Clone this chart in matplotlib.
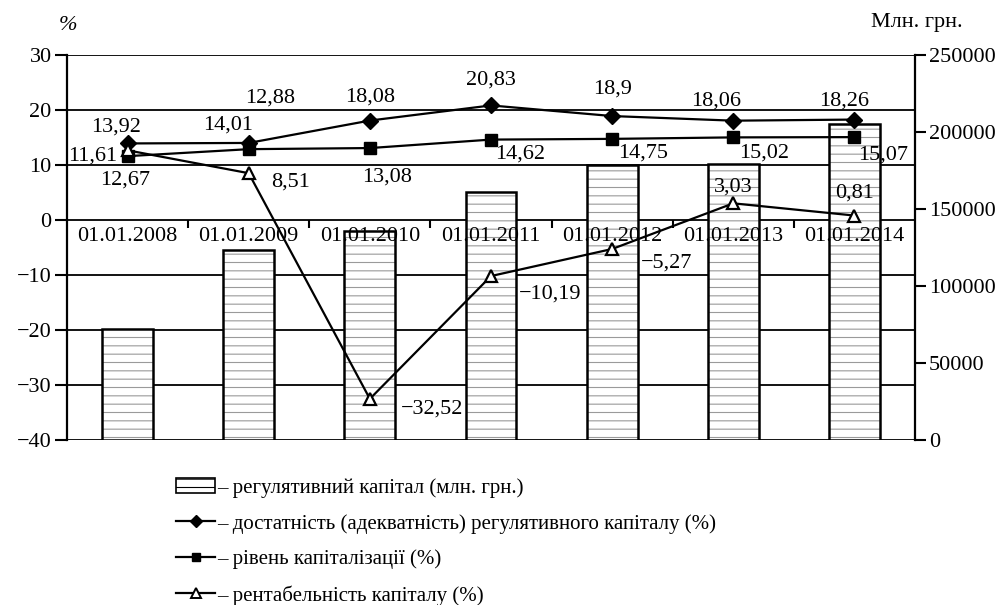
import matplotlib
matplotlib.use("Agg")
import matplotlib.pyplot as plt
from matplotlib.lines import Line2D
from matplotlib.patches import Patch

plt.rcParams['font.family'] = ['Liberation Serif', 'DejaVu Serif']
plt.rcParams['hatch.linewidth'] = 0.8

# data
dates = ["01.01.2008", "01.01.2009", "01.01.2010", "01.01.2011",
         "01.01.2012", "01.01.2013", "01.01.2014"]
reg_capital = [72265, 123066, 135802, 160897, 178454, 178909, 204976]
adequacy = [13.92, 14.01, 18.08, 20.83, 18.9, 18.06, 18.26]
capitalization = [11.61, 12.88, 13.08, 14.62, 14.75, 15.02, 15.07]
profitability = [12.67, 8.51, -32.52, -10.19, -5.27, 3.03, 0.81]

legend_labels = [
    "– регулятивний капітал (млн. грн.)",
    "– достатність (адекватність) регулятивного капіталу (%)",
    "– рівень капіталізації (%)",
    "– рентабельність капіталу (%)",
]

# where each value label sits relative to its point (pixels)
adequacy_offsets = [(-12, 16), (-21, 18), (0, 24), (0, 25), (0, 27), (-17, 20), (-10, 19)]
capital_offsets = [(-35, 0), (21, 51), (17, -29), (29, -14), (31, -14), (31, -16), (29, -18)]
profit_offsets = [(-2, -30), (42, -9), (62, -10), (59, -18), (54, -14), (0, 16), (0, 22)]


def fmt(v):
    return str(v).replace(".", ",").replace("-", "\u2212")


fig = plt.figure(figsize=(9.98, 6.05), dpi=100)
ax = fig.add_axes([67 / 998, 1 - 440 / 605, 848 / 998, 385 / 605])
ax_bar = ax.twinx()
ax_line = ax.twinx()
ax.set_zorder(0)
ax_bar.set_zorder(1)
ax_line.set_zorder(2)

x = list(range(len(dates)))

# left axis with the grid
ax.set_ylim(-40, 30)
ax.set_yticks(range(-40, 31, 10))
ax.set_yticklabels([fmt(v) for v in range(-40, 31, 10)])
ax.grid(axis="y", color="black", lw=1.3)
ax.set_xlim(-0.5, 6.5)
ax.xaxis.set_visible(False)
ax.tick_params(axis="y", length=9, width=1.5, labelsize=16, pad=2)
for s in ["top", "bottom", "right"]:
    ax.spines[s].set_visible(False)
ax.spines["left"].set_linewidth(1.6)

# bars on the right axis
ax_bar.bar(x, reg_capital, width=0.42, facecolor="white", edgecolor="#9a9a9a",
           hatch="--", linewidth=0)
ax_bar.bar(x, reg_capital, width=0.42, facecolor="none", edgecolor="black", linewidth=1.8)
ax_bar.set_ylim(0, 250000)
ax_bar.set_yticks(range(0, 250001, 50000))
ax_bar.set_yticklabels([str(v) for v in range(0, 250001, 50000)])
ax_bar.tick_params(axis="y", length=8, width=1.5, labelsize=16, pad=2)
for s in ["top", "bottom", "left"]:
    ax_bar.spines[s].set_visible(False)
ax_bar.spines["right"].set_linewidth(1.6)

# lines on the left scale
ax_line.set_ylim(-40, 30)
ax_line.yaxis.set_visible(False)
for s in ["top", "left", "right"]:
    ax_line.spines[s].set_visible(False)
ax_line.xaxis.set_visible(True)
ax_line.spines["bottom"].set_position(("data", 0))
ax_line.spines["bottom"].set_visible(False)
ax_line.set_xticks(x)
ax_line.set_xticklabels(dates)
ax_line.set_xticks([i + 0.5 for i in range(6)], minor=True)
ax_line.tick_params(axis="x", which="major", length=0, labelsize=16, pad=5)
ax_line.tick_params(axis="x", which="minor", length=6, width=1.5, direction="out")

ax_line.plot(x, adequacy, color="black", lw=1.6, marker="D", ms=8, mfc="black", mec="black")
ax_line.plot(x, capitalization, color="black", lw=1.6, marker="s", ms=8, mfc="black", mec="black")
ax_line.plot(x, profitability, color="black", lw=1.6, marker="^", ms=9, mfc="white",
             mec="black", mew=1.6)

for vals, offs in [(adequacy, adequacy_offsets), (capitalization, capital_offsets),
                   (profitability, profit_offsets)]:
    for xi, v, off in zip(x, vals, offs):
        ax_line.annotate(fmt(v), (xi, v), xytext=off, textcoords="offset pixels",
                         ha="center", va="center", fontsize=16)

fig.text(68 / 998, 1 - 25 / 605, "%", ha="center", va="center", fontsize=16, style="italic")
fig.text(917 / 998, 1 - 23 / 605, "Млн. грн.", ha="center", va="center", fontsize=16)

handles = [
    Patch(facecolor="white", edgecolor="black", hatch="--", linewidth=1.2),
    Line2D([], [], color="black", lw=1.6, marker="D", ms=6, mfc="black"),
    Line2D([], [], color="black", lw=1.6, marker="s", ms=6, mfc="black"),
    Line2D([], [], color="black", lw=1.6, marker="^", ms=7, mfc="white", mew=1.4),
]
fig.legend(handles, legend_labels, loc="upper left", bbox_to_anchor=(168 / 998, 1 - 470 / 605),
           frameon=False, fontsize=15, handlelength=1.85, handletextpad=0.1,
           labelspacing=0.76, borderaxespad=0)

fig.savefig("out.png", dpi=100)
